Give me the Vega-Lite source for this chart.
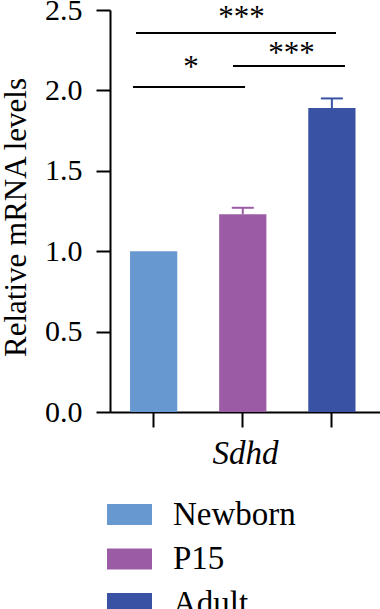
{
  "$schema": "https://vega.github.io/schema/vega-lite/v6.json",
  "width": 270,
  "height": 402,
  "autosize": "none",
  "padding": {"left": 110, "top": 10, "right": 0, "bottom": 197},
  "config": {
    "font": "Liberation Serif",
    "view": {"stroke": null},
    "axis": {"labelFont": "Liberation Serif", "titleFont": "Liberation Serif", "domainColor": "black", "tickColor": "black", "domainWidth": 2, "tickWidth": 2, "grid": false, "labelColor": "black", "titleColor": "black"},
    "tick": {"opacity": 1}
  },
  "datasets": {
    "bars": [
      {"group": "Newborn", "value": 1.0, "upper": null},
      {"group": "P15", "value": 1.23, "upper": 1.27},
      {"group": "Adult", "value": 1.89, "upper": 1.95}
    ],
    "lines": [
      {"x1": -0.219, "x2": 2.028, "value": 2.357},
      {"x1": -0.253, "x2": 1.006, "value": 2.021},
      {"x1": 0.871, "x2": 2.129, "value": 2.152}
    ],
    "stars": [
      {"x": 0.966, "value": 2.394, "label": "***"},
      {"x": 0.4, "value": 2.085, "label": "*"},
      {"x": 1.528, "value": 2.17, "label": "***"}
    ]
  },
  "encoding": {
    "y": {
      "field": "value", "type": "quantitative",
      "scale": {"domain": [0, 2.5]},
      "axis": {"title": "Relative mRNA levels", "titleFontWeight": "normal", "titleFontSize": 31, "titlePadding": 12, "titleY": 207, "values": [0, 0.5, 1, 1.5, 2, 2.5], "format": ".1f", "labelFontSize": 30, "tickSize": 14, "labelPadding": 14}
    }
  },
  "layer": [
    {
      "data": {"name": "bars"},
      "mark": {"type": "bar"},
      "encoding": {
        "x": {
          "field": "group", "type": "nominal", "sort": ["Newborn", "P15", "Adult"],
          "scale": {"paddingInner": 0.47, "paddingOuter": 0.25, "align": 0.45},
          "axis": {"title": "Sdhd", "titleFontStyle": "italic", "titleFontWeight": "normal", "titleFontSize": 33, "titlePadding": 9, "labels": false, "tickSize": 15}
        },
        "color": {
          "field": "group", "type": "nominal",
          "scale": {"domain": ["Newborn", "P15", "Adult"], "range": ["#6798d0", "#9b5ca5", "#3952a3"]},
          "legend": {
            "title": null, "orient": "none", "legendX": -3, "legendY": 482,
            "symbolType": "M-1,-0.467H1V0.467H-1Z", "symbolSize": 2025, "symbolStrokeWidth": 0, "symbolOpacity": 1,
            "labelFont": "Liberation Serif", "labelFontSize": 33, "labelColor": "black", "labelOffset": 21, "rowPadding": 4.5
          }
        }
      }
    },
    {
      "data": {"name": "bars"},
      "transform": [{"filter": "datum.upper != null"}],
      "mark": {"type": "rule", "strokeWidth": 2},
      "encoding": {
        "x": {"field": "group", "type": "nominal", "sort": ["Newborn", "P15", "Adult"], "scale": {"domain": ["Newborn", "P15", "Adult"], "paddingInner": 0.47, "paddingOuter": 0.25, "align": 0.45}, "axis": null},
        "y2": {"field": "upper"},
        "color": {"field": "group", "type": "nominal", "legend": null}
      }
    },
    {
      "data": {"name": "bars"},
      "transform": [{"filter": "datum.upper != null"}],
      "mark": {"type": "tick", "thickness": 2, "size": 22, "opacity": 1},
      "encoding": {
        "x": {"field": "group", "type": "nominal", "sort": ["Newborn", "P15", "Adult"], "scale": {"domain": ["Newborn", "P15", "Adult"], "paddingInner": 0.47, "paddingOuter": 0.25, "align": 0.45}, "axis": null},
        "y": {"field": "upper", "type": "quantitative"},
        "color": {"field": "group", "type": "nominal", "legend": null}
      }
    },
    {
      "data": {"name": "lines"},
      "mark": {"type": "rule", "strokeWidth": 2, "color": "black"},
      "encoding": {
        "x": {"field": "x1", "type": "quantitative", "scale": {"domain": [-0.511, 2.522], "nice": false, "zero": false}, "axis": null},
        "x2": {"field": "x2"}
      }
    },
    {
      "data": {"name": "stars"},
      "mark": {"type": "text", "font": "Liberation Serif", "fontSize": 31, "align": "center", "baseline": "alphabetic", "color": "black"},
      "encoding": {
        "x": {"field": "x", "type": "quantitative", "scale": {"domain": [-0.511, 2.522], "nice": false, "zero": false}, "axis": null},
        "text": {"field": "label"}
      }
    }
  ],
  "resolve": {"scale": {"x": "independent"}}
}
